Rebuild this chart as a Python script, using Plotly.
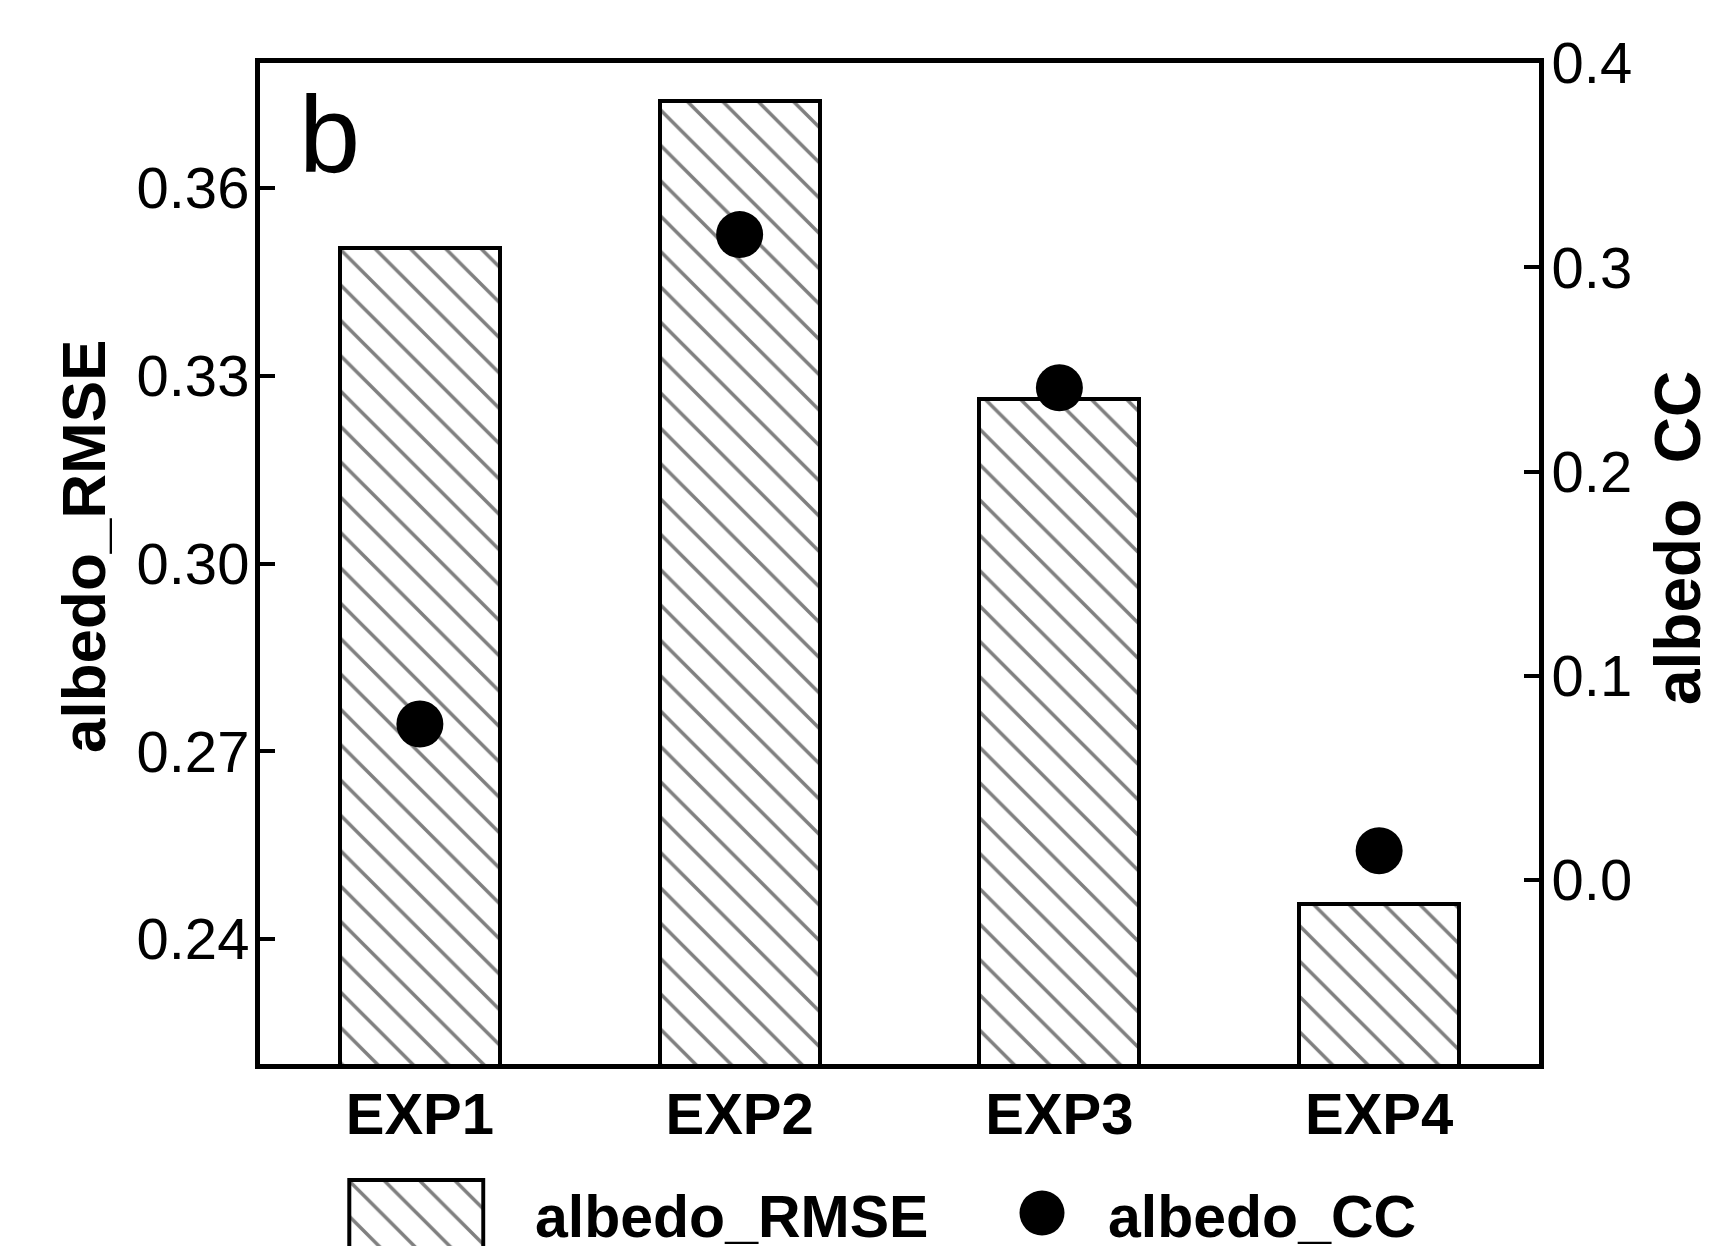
import plotly.graph_objects as go

categories = ["EXP1", "EXP2", "EXP3", "EXP4"]
rmse_values = [0.3504, 0.3740, 0.3263, 0.2456]
cc_values = [0.0764, 0.316, 0.241, 0.0144]
left_ticks = [0.24, 0.27, 0.30, 0.33, 0.36]
right_ticks = [0.0, 0.1, 0.2, 0.3, 0.4]

OFF = 8  # page body margin offset
W, H = 1711 - OFF, 1246 - OFF
ML, MR, MT, MB = 260 - OFF, 172, 63 - OFF, 0
PW, PH = W - ML - MR, H - MT - MB


def px_x(p):
    return (p - OFF - ML) / PW


def px_y(p):
    return (H - MB - (p - OFF)) / PH


FONT = "Liberation Sans, Arial, sans-serif"
pattern = dict(shape="\\", fgcolor="#000000", bgcolor="white", size=25,
               solidity=0.14, fillmode="overlay")

fig = go.Figure()
fig.add_trace(go.Bar(
    x=categories, y=rmse_values, width=0.5, name="albedo_RMSE",
    marker=dict(color="white", pattern=pattern,
                line=dict(color="black", width=4)),
    showlegend=False,
))
fig.add_trace(go.Scatter(
    x=categories, y=cc_values, yaxis="y2", mode="markers", name="albedo_CC",
    marker=dict(color="black", size=47),
    showlegend=False,
))
# legend key: hatched box and dot
fig.add_trace(go.Bar(
    x=[0], y=[2], base=[-1], width=1, xaxis="x3", yaxis="y3",
    marker=dict(color="white", pattern=pattern,
                line=dict(color="black", width=4)),
    showlegend=False, hoverinfo="skip",
))
fig.add_trace(go.Scatter(
    x=[0], y=[0.5], xaxis="x4", yaxis="y4", mode="markers",
    marker=dict(color="black", size=45), showlegend=False, hoverinfo="skip",
))

main_bottom = px_y(1064)
leg_top = px_y(1178)

fig.update_layout(
    width=W, height=H,
    margin=dict(l=ML, r=MR, t=MT, b=MB, autoexpand=False),
    paper_bgcolor="white", plot_bgcolor="white",
    font=dict(family=FONT, color="black", size=58),
    xaxis=dict(
        domain=[0, 1], range=[-0.5, 3.5], type="category",
        showline=True, linewidth=5, linecolor="black", mirror=True,
        ticks="", showgrid=False, zeroline=False,
        tickfont=dict(size=58, weight="bold", family=FONT),
        ticklabelstandoff=-5,
        anchor="y",
    ),
    yaxis=dict(
        domain=[main_bottom, 1], range=[0.22, 0.38],
        tickvals=left_ticks, tickformat=".2f",
        ticks="inside", ticklen=15, tickwidth=4, tickcolor="black",
        showline=True, linewidth=5, linecolor="black",
        showgrid=False, zeroline=False,
        tickfont=dict(size=58, family=FONT),
        ticklabelstandoff=-6,
    ),
    yaxis2=dict(
        domain=[main_bottom, 1], range=[-0.09, 0.4], overlaying="y", side="right",
        tickvals=right_ticks, tickformat=".1f",
        ticks="inside", ticklen=15, tickwidth=4, tickcolor="black",
        showline=True, linewidth=5, linecolor="black",
        showgrid=False, zeroline=False,
        tickfont=dict(size=58, family=FONT),
        ticklabelstandoff=-4,
        anchor="x",
    ),
    xaxis3=dict(domain=[px_x(346.3), px_x(485.7)], range=[-0.52, 0.52],
                visible=False, anchor="y3"),
    yaxis3=dict(domain=[0, leg_top], range=[0, 1.03], visible=False, anchor="x3"),
    xaxis4=dict(domain=[px_x(1012), px_x(1072)], range=[-1, 1],
                visible=False, anchor="y4"),
    yaxis4=dict(domain=[0, leg_top], range=[0, 1.03], visible=False, anchor="x4"),
    bargap=0,
)

annotations = [
    dict(text="b", x=px_x(297), y=px_y(70), xref="paper", yref="paper",
         xanchor="left", yanchor="top", showarrow=False,
         font=dict(size=110, family=FONT)),
    dict(text="albedo_RMSE", x=px_x(83), y=px_y(547), xref="paper", yref="paper",
         xanchor="center", yanchor="middle", textangle=-90, showarrow=False,
         font=dict(size=62, weight="bold", family=FONT)),
    dict(text="albedo_CC", x=px_x(1640), y=px_y(538), xref="paper", yref="paper",
         xanchor="left", yanchor="middle", textangle=-90, showarrow=False,
         font=dict(size=64, weight="bold", family=FONT)),
    dict(text="albedo_RMSE", x=px_x(533), y=px_y(1217), xref="paper", yref="paper",
         xanchor="left", yanchor="middle", showarrow=False,
         font=dict(size=59, weight="bold", family=FONT)),
    dict(text="albedo_CC", x=px_x(1106), y=px_y(1217), xref="paper", yref="paper",
         xanchor="left", yanchor="middle", showarrow=False,
         font=dict(size=59, weight="bold", family=FONT)),
]
fig.update_layout(annotations=annotations)

fig.write_html("out.html")
